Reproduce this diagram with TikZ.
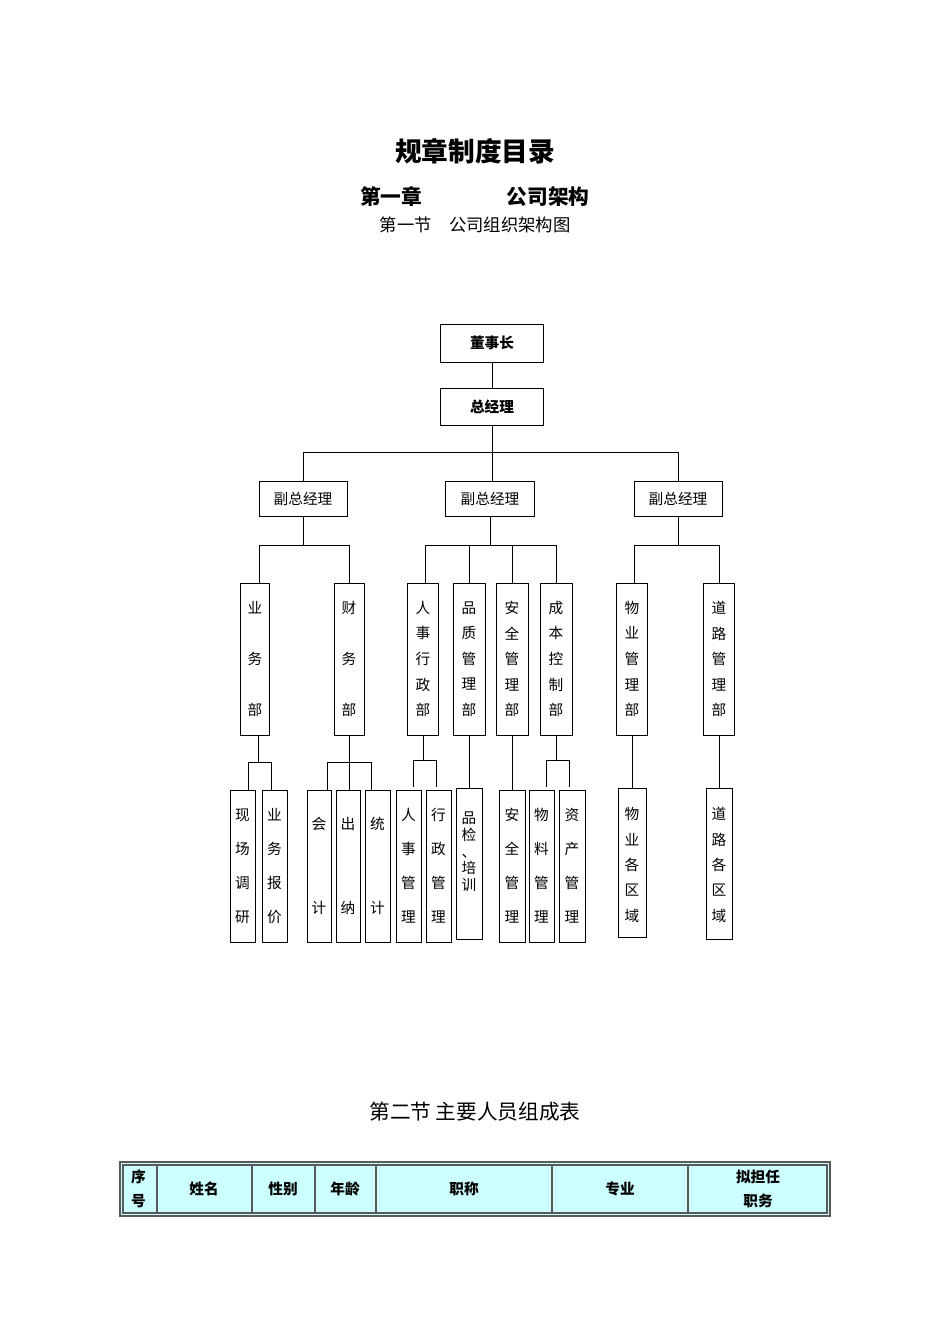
\documentclass[tikz,border=0pt]{standalone}
\usepackage{fontspec}
\setmainfont{Noto Sans CJK SC}
\begin{document}
\begin{tikzpicture}[x=0.75pt,y=-0.75pt,
  bx/.style={draw,line width=0.75pt,inner sep=0pt},
  ln/.style={line width=0.75pt},
  tx/.style={font=\fontsize{11}{#1}\selectfont,align=center,inner sep=0pt},
  tx/.default=19]
\useasboundingbox[fill=white] (0,0) rectangle (950,1344);
\node[font=\bfseries\fontsize{20}{22}\selectfont] (t1) at (475,151) {规章制度目录};
\node[font=\bfseries\fontsize{15.5}{18}\selectfont] (t2) at (391,197) {第一章};
\node[font=\bfseries\fontsize{15.5}{18}\selectfont] (t3) at (548,197) {公司架构};
\node[font=\fontsize{13}{15}\selectfont] (t4) at (475,225) {第一节\quad 公司组织架构图};
\node[font=\fontsize{15.5}{18}\selectfont] (t5) at (475,1112) {第二节 主要人员组成表};
\node[bx,minimum width=77pt,minimum height=28.5pt,font=\bfseries\fontsize{11}{13}\selectfont] (dsz) at (492,343) {董事长};
\node[bx,minimum width=77pt,minimum height=28pt,font=\bfseries\fontsize{11}{13}\selectfont] (zjl) at (492,407) {总经理};
\node[bx,minimum width=66pt,minimum height=26pt,font=\fontsize{11}{13}\selectfont] (f1) at (303,499) {副总经理};
\node[bx,minimum width=67pt,minimum height=26pt,font=\fontsize{11}{13}\selectfont] (f2) at (490,499) {副总经理};
\node[bx,minimum width=66pt,minimum height=26pt,font=\fontsize{11}{13}\selectfont] (f3) at (678,499) {副总经理};
\draw[ln] (dsz) -- (zjl);
\coordinate (j0) at (492,452);
\draw[ln] (zjl) -- (j0);
\draw[ln] (f1.north) -- (303,452) -- (678,452) -- (f3.north);
\draw[ln] (j0) -- (492,481);
\foreach \n/\x/\w/\tt/\sp in {yw/255/29/{业\\务\\部}/38, cw/349/30/{财\\务\\部}/38, rs/423/31/{人\\事\\行\\政\\部}/19.2, pz/469/32/{品\\质\\管\\理\\部}/19.2, aq/512/32/{安\\全\\管\\理\\部}/19.2, cb/556/32/{成\\本\\控\\制\\部}/19.2, wy/632/31/{物\\业\\管\\理\\部}/19.2, dl/719/31/{道\\路\\管\\理\\部}/19.2}{
  \node[bx,minimum width=\w*0.75pt,minimum height=114pt] (\n) at (\x,659) {};
  \node[tx=\sp] (\n t) at (\x,659) {\tt};
}
\draw[ln] (f1.south) -- (303,545);
\draw[ln] (259,583) -- (259,545) -- (349,545) -- (cw.north);
\draw[ln] (f2.south) -- (490,545);
\draw[ln] (425,583) -- (425,545) -- (556,545) -- (cb.north);
\draw[ln] (469,545) -- (pz.north);
\draw[ln] (512,545) -- (aq.north);
\draw[ln] (f3.south) -- (678,545);
\draw[ln] (634,583) -- (634,545) -- (719,545) -- (dl.north);
\foreach \n/\a/\b/\tt/\sp in {xc/230/255/{现\\场\\调\\研}/25.5, bj/262/287/{业\\务\\报\\价}/25.5, kj/307/331/{会\\[50pt]计}/13, cn/336/360/{出\\[50pt]纳}/13, tj/365/390/{统\\[50pt]计}/13, rg/396/421/{人\\事\\管\\理}/25.5, xz/426/451/{行\\政\\管\\理}/25.5, aqg/499/525/{安\\全\\管\\理}/25.5, wl/529/554/{物\\料\\管\\理}/25.5, zc/559/585/{资\\产\\管\\理}/25.5}{
  \node[bx,minimum width={(\b-\a)*0.75pt},minimum height=114pt] (\n) at ({(\a+\b)/2},866) {};
  \node[tx=\sp] (\n t) at ({(\a+\b)/2},866) {\tt};
}
\node[bx,minimum width=19.5pt,minimum height=113pt] (pj) at (469,864) {};
\node[tx=12.5] (pjt) at (469,852) {品\\检\\、\\培\\训};
\node[bx,minimum width=21pt,minimum height=112pt] (wq) at (632,863) {};
\node[tx=19] (wqt) at (632,865) {物\\业\\各\\区\\域};
\node[bx,minimum width=19.5pt,minimum height=113pt] (dq) at (719,864) {};
\node[tx=19] (dqt) at (719,865) {道\\路\\各\\区\\域};
\draw[ln] (258,735) -- (258,762);
\draw[ln] (248,790) -- (248,762) -- (271,762) -- (271,790);
\draw[ln] (349,735) -- (349,790);
\draw[ln] (327,790) -- (327,762) -- (371,762) -- (371,790);
\draw[ln] (423,735) -- (423,760);
\draw[ln] (413,787) -- (413,760) -- (436,760) -- (436,787);
\draw[ln] (pz.south) -- (pj.north);
\draw[ln] (aq.south) -- (aqg.north);
\draw[ln] (556,735) -- (556,760);
\draw[ln] (546,787) -- (546,760) -- (569,760) -- (569,787);
\draw[ln] (wy.south) -- (wq.north);
\draw[ln] (dl.south) -- (dq.north);
\definecolor{tcyan}{RGB}{204,255,255}
\fill[tcyan] (120,1162) rectangle (830,1216);
\draw[line width=0.8pt,gray!70!black] (120,1162) rectangle (830,1216);
\draw[line width=0.8pt,gray!70!black] (123,1165) rectangle (827,1213);
\foreach \x in {157,252,315,376,552,688}{\draw[line width=0.8pt,gray!70!black] (\x,1165) -- (\x,1213);}
\foreach \n/\x/\tt in {c1/138.5/{序\\号}, c2/204/姓名, c3/283/性别, c4/345/年龄, c5/464/职称, c6/620/专业, c7/758/{拟担任\\职务}}{
  \node[font=\bfseries\fontsize{11}{18}\selectfont,align=center,inner sep=0pt] (\n) at (\x,1189) {\tt};
}
\end{tikzpicture}
\end{document}
